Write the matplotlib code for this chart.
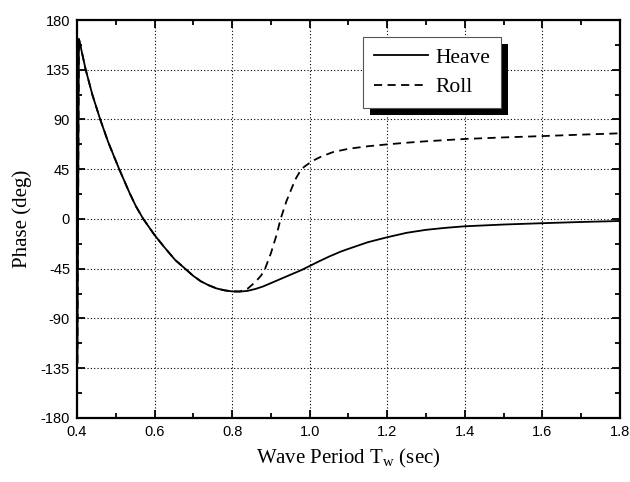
import numpy as np
import matplotlib.pyplot as plt
from matplotlib.patches import Rectangle
from matplotlib.transforms import IdentityTransform

# values
heave_t = [0.401, 0.405, 0.4225, 0.44, 0.46, 0.48, 0.495, 0.509, 0.535,
           0.552, 0.571, 0.588, 0.6, 0.624, 0.653, 0.679, 0.70, 0.72, 0.74, 0.76,
           0.78, 0.80, 0.82, 0.84, 0.86, 0.88, 0.90, 0.92, 0.94, 0.96, 0.98,
           1.0, 1.02, 1.05, 1.08, 1.1, 1.15, 1.2, 1.25, 1.3, 1.35, 1.4, 1.5, 1.6, 1.7, 1.8]
heave_phase = [-130, 163, 135, 112, 90, 70, 57, 45, 24,
               11.5, 0, -8.5, -14.5, -25, -37, -45, -51.5, -56.5, -60, -62.8,
               -64.5, -65.5, -65.7, -65, -63.3, -61, -58, -55, -52, -49, -46,
               -42.5, -39, -34, -29.5, -27, -21, -16.5, -12.5, -9.8, -8, -6.6, -5, -3.8, -2.7, -1.8]

roll_t = [0.401, 0.405, 0.4225, 0.44, 0.46, 0.48, 0.495, 0.509, 0.535,
          0.552, 0.571, 0.588, 0.6, 0.624, 0.653, 0.679, 0.70, 0.72, 0.74, 0.76,
          0.78, 0.80, 0.82, 0.84, 0.86, 0.875, 0.885, 0.90, 0.915, 0.925, 0.94, 0.955,
          0.965, 0.975, 0.985, 0.997, 1.01, 1.03, 1.06, 1.1, 1.15, 1.2, 1.25, 1.3, 1.4,
          1.5, 1.6, 1.7, 1.8]
roll_phase = [-130, 163, 135, 112, 90, 70, 57, 45, 24,
              11.5, 0, -8.5, -14.5, -25, -37, -45, -51.5, -56.5, -60, -62.8,
              -64.5, -65.5, -65.5, -63, -57, -51, -45, -31, -14, 0, 16, 29,
              37, 43, 47, 50, 53, 56.5, 60.5, 63.5, 65.8, 67.5, 69, 70.3, 72.4,
              73.8, 75, 76.3, 77.5]

xticks = [0.4, 0.6, 0.8, 1.0, 1.2, 1.4, 1.6, 1.8]
yticks = [-180, -135, -90, -45, 0, 45, 90, 135, 180]

plt.rcParams['font.family'] = 'Liberation Serif'

fig = plt.figure(figsize=(6.3, 4.82), dpi=100)
ax = fig.add_axes([0.1222, 0.1328, 0.8618, 0.8257])

ax.plot(heave_t, heave_phase, color='black', lw=1.3, label='Heave')
ax.plot(roll_t, roll_phase, color='black', lw=1.3, ls=(0, (4.5, 3)), label='Roll')

ax.set_xlim(0.4, 1.8)
ax.set_ylim(-180, 180)
ax.set_xticks(xticks)
ax.set_yticks(yticks)
ax.set_xticks(np.arange(0.5, 1.8, 0.2), minor=True)
ax.set_yticks(np.arange(-157.5, 180, 45), minor=True)
ax.set_xticklabels(['%.1f' % v for v in xticks], family='Liberation Sans', fontsize=10.5)
ax.set_yticklabels([str(v) for v in yticks], family='Liberation Sans', fontsize=10.5)
ax.tick_params(which='both', direction='in', top=True, right=True, width=1.3)
ax.tick_params(which='major', length=6, pad=5)
ax.tick_params(which='minor', length=3.5)
for s in ax.spines.values():
    s.set_linewidth(1.6)

ax.grid(True, which='major', color='black', ls=(0, (1, 2)), lw=0.8)

ax.set_xlabel('Wave Period T$_\\mathregular{w}$ (sec)', fontsize=15, labelpad=6)
ax.set_ylabel('Phase (deg)', fontsize=15, labelpad=6)

leg = ax.legend(loc='upper left', bbox_to_anchor=(0.527, 0.957), borderaxespad=0,
                fontsize=15.5, fancybox=False, framealpha=1, edgecolor='#555555',
                handlelength=2.5, handletextpad=0.35, borderpad=0.5, labelspacing=0.42)
leg.get_frame().set_linewidth(0.8)
leg.set_zorder(5)

fig.canvas.draw()
bb = leg.get_frame().get_window_extent()
shadow = Rectangle((bb.x0 + 7, bb.y0 - 7), bb.width, bb.height,
                   facecolor='black', edgecolor='none', zorder=4, clip_on=False)
shadow.set_transform(IdentityTransform())
ax.add_artist(shadow)

fig.savefig('out.png', dpi=100)
